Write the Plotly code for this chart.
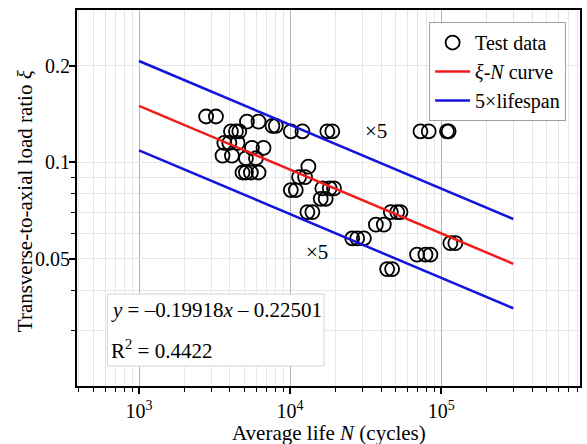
import numpy as np
import plotly.graph_objects as go

# ---- data ----
life_N = [2780, 3230, 5180, 6180, 7640, 8040,
          4060, 4380, 4610, 10110, 12060, 17630, 19020, 72890, 82700, 109220, 112050,
          3670, 3960, 4490, 5590, 6670, 3570, 4120, 5100, 5940,
          13210, 4840, 5100, 5500, 6180, 11470, 12560,
          16340, 18280, 19520, 10110, 10900, 15940, 17200,
          13010, 14040, 46420, 51090, 53790, 36950, 41740,
          25780, 27810, 30790, 115000, 124060, 69230, 78650, 84860, 43870, 47340]
load_ratio = [0.139, 0.139, 0.134, 0.134, 0.130, 0.130,
              0.125, 0.125, 0.125, 0.125, 0.125, 0.125, 0.125, 0.125, 0.125, 0.125, 0.125,
              0.115, 0.115, 0.115, 0.111, 0.111, 0.105, 0.105, 0.103, 0.103,
              0.097, 0.093, 0.093, 0.093, 0.093, 0.090, 0.090,
              0.083, 0.083, 0.083, 0.082, 0.082, 0.077, 0.077,
              0.070, 0.070, 0.070, 0.070, 0.070, 0.064, 0.064,
              0.058, 0.058, 0.058, 0.056, 0.056, 0.0516, 0.0516, 0.0516, 0.0465, 0.0465]

line_N = [1000, 300000]
fit_xi = [0.150, 0.0483]
upper_xi = [0.207, 0.0666]
lower_xi = [0.109, 0.0351]

x_major = [1e3, 1e4, 1e5]
x_major_text = ["10<sup>3</sup>", "10<sup>4</sup>", "10<sup>5</sup>"]
y_major = [0.05, 0.1, 0.2]
y_major_text = ["0.05", "0.1", "0.2"]
x_minor = [d * m for m in [100, 1000, 10000, 100000] for d in range(2, 10) if 390 <= d * m <= 830000]
y_minor = [d * m for m in [0.01, 0.1] for d in range(2, 10) if d * m <= 0.3001]

FONT = "Liberation Serif, Times New Roman, serif"
LIGHT = "#e6e6e6"
DARK = "#b4b4b4"

fig = go.Figure()
fig.add_trace(go.Scatter(x=life_N, y=load_ratio, mode="markers", name="Test data",
                         marker=dict(symbol="circle-open", size=14, color="black",
                                     line=dict(width=1.8, color="black"))))
fig.add_trace(go.Scatter(x=line_N, y=fit_xi, mode="lines", name="<i>ξ</i>-<i>N</i> curve",
                         line=dict(color="#ee1c1c", width=2.5)))
fig.add_trace(go.Scatter(x=line_N, y=upper_xi, mode="lines", name="5×lifespan",
                         line=dict(color="#1414dc", width=2.5), legendgroup="b"))
fig.add_trace(go.Scatter(x=line_N, y=lower_xi, mode="lines", name="5×lifespan",
                         line=dict(color="#1414dc", width=2.5), legendgroup="b", showlegend=False))

fig.update_layout(
    width=587, height=444,
    margin=dict(l=77, r=5, t=10, b=58),
    paper_bgcolor="white", plot_bgcolor="white",
    font=dict(family=FONT, size=20, color="black"),
    showlegend=True,
    legend=dict(x=0.70, y=0.968, xanchor="left", yanchor="top",
                bgcolor="white", bordercolor="#a0a0a0", borderwidth=1,
                font=dict(family=FONT, size=20), tracegroupgap=0,
                itemwidth=35),
    xaxis=dict(type="log", range=[2.5894, 5.9188],
               tickmode="array", tickvals=x_major, ticktext=x_major_text,
               ticks="outside", ticklen=6, tickwidth=1.5, tickcolor="black",
               showline=True, linecolor="black", linewidth=1.8, mirror=True,
               showgrid=True, gridcolor=DARK, gridwidth=1,
               tickfont=dict(family=FONT, size=20),
               minor=dict(tickmode="array", tickvals=x_minor, ticks="outside", ticklen=4,
                          tickcolor="black", tickwidth=1.2, showgrid=True,
                          gridcolor=LIGHT, gridwidth=1),
               zeroline=False),
    yaxis=dict(type="log", range=[-1.697, -0.525],
               tickmode="array", tickvals=y_major, ticktext=y_major_text,
               showticklabels=False,
               ticks="outside", ticklen=6, tickwidth=1.5, tickcolor="black",
               showline=True, linecolor="black", linewidth=1.8, mirror=True,
               showgrid=True, gridcolor=LIGHT, gridwidth=1,
               minor=dict(tickmode="array", tickvals=y_minor, ticks="outside", ticklen=4,
                          tickcolor="black", tickwidth=1.2, showgrid=True,
                          gridcolor=LIGHT, gridwidth=1),
               zeroline=False),
)

# y tick labels placed close to the axis
for v, t in zip(y_major, y_major_text):
    fig.add_annotation(xref="paper", yref="y", x=(72 - 77) / 505, y=np.log10(v),
                       text=t, showarrow=False, xanchor="right", yanchor="middle",
                       font=dict(family=FONT, size=20))

# darker decade grid line on y
fig.add_shape(type="line", xref="paper", yref="y", x0=0, x1=1,
              y0=np.log10(0.1), y1=np.log10(0.1), line=dict(color=DARK, width=1), layer="below")

# equation box
fig.add_shape(type="rect", xref="paper", yref="paper",
              x0=(107.5 - 77) / 505, x1=(325 - 77) / 505,
              y0=(386 - 366) / 376, y1=(386 - 294) / 376,
              fillcolor="white", line=dict(color="#d4d4d4", width=1), layer="above")
fig.add_annotation(xref="paper", yref="paper", x=(109 - 77) / 505, y=(386 - 310) / 376,
                   xanchor="left", yanchor="middle", showarrow=False,
                   text="<i>y</i> = –0.19918<i>x</i> – 0.22501",
                   font=dict(family=FONT, size=21))
fig.add_annotation(xref="paper", yref="paper", x=(109 - 77) / 505, y=(386 - 349) / 376,
                   xanchor="left", yanchor="middle", showarrow=False,
                   text="R<sup>2</sup> = 0.4422",
                   font=dict(family=FONT, size=21))

# x5 labels
fig.add_annotation(x=np.log10(36950), y=np.log10(0.125), text="×5", showarrow=False,
                   font=dict(family=FONT, size=21))
fig.add_annotation(x=np.log10(15070), y=np.log10(0.0526), text="×5", showarrow=False,
                   font=dict(family=FONT, size=21))

# axis titles
fig.add_annotation(xref="paper", yref="paper", x=(330 - 77) / 505, y=(386 - 433) / 376,
                   text="Average life <i>N</i> (cycles)", showarrow=False,
                   xanchor="center", yanchor="middle", font=dict(family=FONT, size=21))
fig.add_annotation(xref="paper", yref="paper", x=(25 - 77) / 505, y=(386 - 201) / 376,
                   text="Transverse-to-axial load ratio <i>ξ</i>", showarrow=False,
                   textangle=-90, xanchor="center", yanchor="middle",
                   font=dict(family=FONT, size=21))

fig.write_html("out.html")
